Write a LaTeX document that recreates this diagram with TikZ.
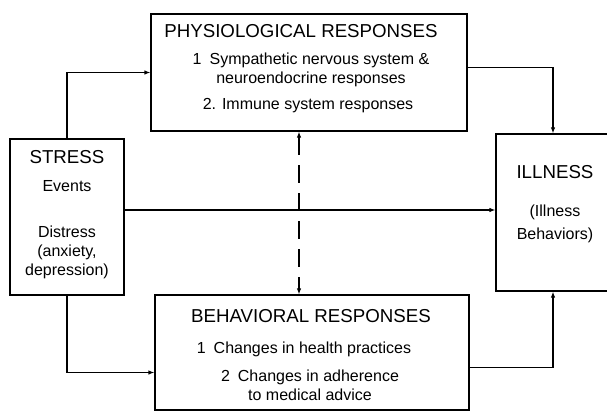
\documentclass[tikz,border=0pt]{standalone}
\usepackage{fontspec}
\setmainfont{Liberation Sans}
\usetikzlibrary{arrows.meta}

\begin{document}
\begin{tikzpicture}[x = 1pt, y = -1pt,
	box/.style = {draw, line width = 1.2pt, rectangle, inner sep = 0pt},
	head/.style = {font = \fontsize{18.7}{20}\selectfont},
	txt/.style = {font = \fontsize{16}{19}\selectfont, align = center},
	link/.style = {line width = 1.2pt, -{Latex[length = 6pt, width = 4.5pt]}}]
	\useasboundingbox (0, 0) rectangle (607, 412);
	\clip (0, 0) rectangle (607, 412);

	\node[box, minimum width = 316pt, minimum height = 117pt] (phys) at (309, 72.5) {};
	\node[box, minimum width = 114pt, minimum height = 156pt] (stress) at (67, 217) {};
	\node[box, minimum width = 130pt, minimum height = 157pt] (illness) at (561, 212.5) {};
	\node[box, minimum width = 314pt, minimum height = 115pt] (behav) at (312, 352.5) {};

	\node[head] (physhead) at (301, 31) {PHYSIOLOGICAL RESPONSES};
	\node[txt] (physone) at (311, 70) {1\enspace Sympathetic nervous system \&\\neuroendocrine responses};
	\node[txt] (phystwo) at (308, 106) {2. Immune system responses};

	\node[head] (stresshead) at (67, 157) {STRESS};
	\node[txt] (events) at (67, 186) {Events};
	\node[txt] (distress) at (67, 252) {Distress\\(anxiety,\\depression)};

	\node[head] (illhead) at (555, 172) {ILLNESS};
	\node[txt, text depth = 0pt] (illbeh) at (555, 222) {(Illness\\[4pt]Behaviors)};

	\node[head] (behavhead) at (311, 316) {BEHAVIORAL RESPONSES};
	\node[txt] (behavone) at (304, 349) {1\enspace Changes in health practices};
	\node[txt] (behavtwo) at (310, 385) {2\enspace Changes in adherence\\to medical advice};

	\coordinate (mid) at (0, 210);
	\coordinate (dx) at (299, 0);
	\coordinate (ix) at (553, 0);

	\draw[link] (stress.north) |- (phys.west);
	\draw[link] (stress.south) |- ([yshift = -20pt]behav.west);
	\draw[link] ([yshift = 5pt]phys.east) -| (ix |- illness.north);
	\draw[link] ([yshift = -15pt]behav.east) -| (ix |- illness.south);
	\draw[link] (stress.east |- mid) -- (illness.west |- mid);
	\draw[link, {Latex[length = 6pt, width = 4.5pt]}-{Latex[length = 6pt, width = 4.5pt]}, dash pattern = on 18pt off 10pt] (phys.south -| dx) -- (behav.north -| dx);
\end{tikzpicture}
\end{document}
